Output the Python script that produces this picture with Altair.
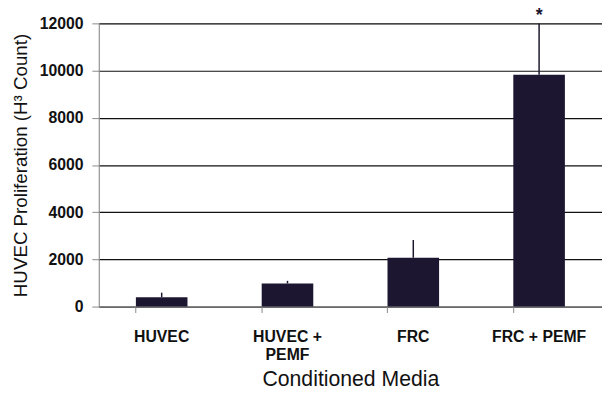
import altair as alt
import pandas as pd

categories = ["HUVEC", "HUVEC + PEMF", "FRC", "FRC + PEMF"]
values = [400, 980, 2070, 9820]
upper = [590, 1090, 2820, 12000]
marks = ["", "", "", "*"]

df = pd.DataFrame({"cond": categories, "value": values, "upper": upper, "mark": marks})

FONT = "Liberation Sans"
BAR = "#1c1630"

x = alt.X("cond:N", sort=categories, title="Conditioned Media",
          scale=alt.Scale(paddingInner=0.59, paddingOuter=0.295),
          axis=alt.Axis(labelAngle=0, bandPosition=0, tickSize=6, tickColor="#888888",
                        domainColor="#888888", labelFont=FONT, labelFontWeight="bold",
                        labelFontSize=16, labelColor="#111111", labelPadding=16,
                        labelLineHeight=19,
                        labelExpr="datum.value == 'HUVEC + PEMF' ? ['HUVEC +', 'PEMF'] : datum.value",
                        titleFont=FONT, titleFontWeight="normal", titleFontSize=21.5,
                        titleColor="#111111", titlePadding=6))

y = alt.Y("value:Q", title="HUVEC Proliferation (H³ Count)",
          scale=alt.Scale(domain=[0, 12000], nice=False),
          axis=alt.Axis(values=[0, 2000, 4000, 6000, 8000, 10000, 12000], grid=True,
                        format="d",
                        gridColor="#111111", gridWidth=1.2, tickSize=7,
                        tickColor="#888888", domainColor="#888888",
                        labelFont=FONT, labelFontWeight="bold", labelFontSize=16,
                        labelColor="#111111", labelPadding=9,
                        titleFont=FONT, titleFontWeight="normal", titleFontSize=19,
                        titleColor="#111111", titlePadding=9))

bars = alt.Chart(df).mark_bar(color=BAR).encode(x=x, y=y)
err = alt.Chart(df).mark_rule(color=BAR, strokeWidth=1.5).encode(
    x=alt.X("cond:N", sort=categories), y="value:Q", y2="upper:Q")
star = alt.Chart(df).mark_text(font=FONT, fontWeight="bold", fontSize=18, color=BAR,
                               baseline="bottom", dy=2).encode(
    x=alt.X("cond:N", sort=categories), y="upper:Q", text="mark:N")

chart = alt.layer(bars, err, star).properties(
    width=510, height=287,
    autosize=alt.AutoSizeParams(type="none"),
    padding={"left": 92, "top": 13, "right": 0, "bottom": 84},
).configure_view(stroke=None).configure(background="white")

chart.save("out.html", embed_options={"renderer": "svg", "actions": False})
